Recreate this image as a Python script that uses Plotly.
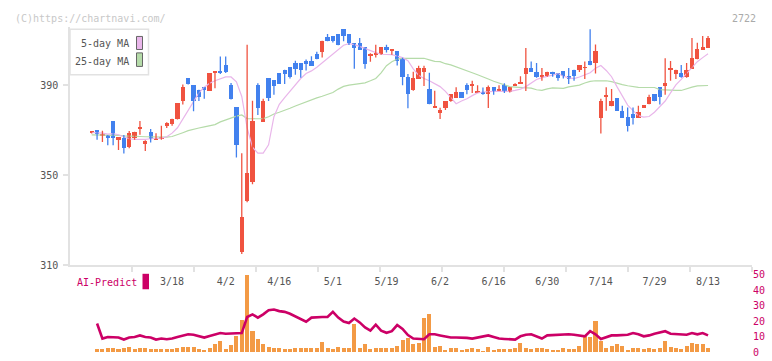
import plotly.graph_objects as go

W, H = 772, 361

# ---------------- data ----------------
date_labels = ["3/18", "4/2", "4/16", "5/1", "5/19", "6/2", "6/16", "6/30", "7/14", "7/29", "8/13"]
date_index = [15, 25, 35, 45, 55, 65, 75, 85, 95, 105, 115]

open_ = [368.9, 369.8, 367.6, 367.9, 374.1, 365.6, 366.6, 362.6, 366.5, 370.5,
         363.6, 368.9, 365.8, 365.8, 371.6, 372.5, 374.8, 382.7, 393.0, 389.9,
         387.7, 389.1, 387.4, 395.2, 396.2, 399.0, 390.0, 380.1, 315.6, 338.5,
         346.7, 390.1, 373.7, 393.0, 392.2, 395.2, 396.9, 397.9, 399.9, 399.9,
         400.8, 400.8, 403.8, 404.8, 411.3, 411.6, 412.8, 414.9, 412.8, 408.8,
         408.8, 406.7, 403.0, 403.6, 403.6, 406.7, 405.5, 405.3, 402.2, 393.7,
         387.6, 392.8, 395.6, 388.1, 380.0, 377.7, 379.7, 382.7, 384.4, 387.0,
         390.0, 389.8, 386.8, 386.8, 385.8, 389.1, 387.5, 390.0, 386.8, 389.9,
         390.8, 394.9, 397.7, 395.9, 393.8, 393.8, 396.0, 395.2, 396.1, 394.0,
         396.9, 396.6, 397.6, 400.8, 399.8, 375.5, 384.8, 380.7, 384.0, 378.5,
         375.8, 377.1, 375.5, 379.9, 381.6, 386.1, 389.1, 389.7, 396.8, 394.9,
         395.2, 393.4, 397.3, 401.6, 405.7, 406.6]
high = [369.6, 369.8, 369.8, 367.9, 374.1, 366.9, 367.9, 369.7, 369.3, 374.1,
        365.5, 370.5, 368.7, 372.0, 373.5, 375.1, 382.0, 390.3, 393.0, 389.9,
        388.0, 389.1, 395.2, 396.2, 402.8, 402.8, 391.0, 380.1, 359.8, 408.0,
        383.1, 390.9, 384.0, 393.0, 392.2, 395.2, 396.9, 397.9, 400.9, 399.9,
        401.5, 402.9, 404.9, 409.8, 412.8, 411.6, 412.8, 414.9, 412.8, 408.8,
        411.0, 406.7, 404.2, 408.0, 406.7, 408.0, 405.9, 405.3, 402.2, 395.0,
        396.0, 398.7, 398.7, 395.6, 387.6, 380.0, 383.0, 386.1, 389.1, 387.0,
        390.9, 392.0, 390.0, 389.0, 389.9, 389.1, 390.0, 390.9, 389.1, 390.9,
        394.0, 406.6, 400.6, 399.9, 397.7, 396.0, 396.0, 395.2, 396.1, 397.7,
        396.9, 399.0, 400.6, 414.9, 408.1, 384.0, 389.1, 388.3, 384.0, 380.9,
        380.1, 380.1, 380.9, 381.0, 385.8, 386.1, 389.1, 402.0, 400.8, 396.9,
        399.0, 399.9, 411.0, 408.9, 411.9, 411.9]
low = [368.6, 365.8, 364.8, 363.3, 363.3, 361.2, 359.6, 362.0, 365.8, 368.0,
       360.8, 364.5, 365.8, 365.8, 371.0, 372.0, 374.8, 381.5, 390.4, 378.4,
       383.0, 384.0, 387.4, 388.7, 395.0, 395.5, 383.7, 357.9, 314.9, 338.0,
       346.0, 376.8, 373.7, 383.0, 385.8, 390.6, 390.6, 393.0, 394.7, 393.4,
       396.6, 398.6, 401.6, 402.4, 409.6, 409.0, 407.8, 409.6, 407.9, 397.3,
       405.7, 397.3, 400.5, 402.4, 403.6, 404.6, 403.6, 398.8, 390.0, 379.8,
       387.6, 392.8, 389.7, 381.6, 380.0, 375.0, 379.0, 382.7, 384.4, 384.4,
       386.0, 386.6, 386.8, 385.8, 379.9, 385.8, 387.5, 386.6, 386.8, 389.9,
       390.8, 387.4, 395.9, 393.4, 392.0, 393.8, 393.8, 392.0, 393.0, 390.6,
       392.0, 395.9, 392.8, 398.9, 395.2, 368.6, 378.7, 380.7, 378.5, 375.5,
       369.4, 372.5, 375.5, 379.9, 381.6, 382.9, 381.5, 385.8, 392.0, 392.8,
       393.4, 393.4, 397.3, 401.6, 405.7, 406.6]
close = [369.3, 368.0, 368.0, 366.5, 366.5, 366.9, 361.8, 368.7, 368.9, 370.9,
         365.1, 365.8, 366.6, 367.0, 372.9, 375.1, 382.0, 389.1, 390.4, 382.8,
         384.5, 387.7, 395.2, 396.2, 395.2, 395.8, 383.7, 363.5, 331.1, 350.9,
         374.1, 379.7, 383.1, 384.4, 389.7, 390.6, 394.9, 393.7, 397.3, 396.6,
         399.5, 398.6, 401.6, 409.8, 409.6, 409.6, 407.8, 411.7, 408.8, 406.3,
         405.7, 399.5, 403.4, 404.0, 406.7, 405.5, 405.9, 400.6, 393.6, 385.9,
         393.0, 397.7, 397.7, 381.6, 380.4, 379.0, 383.0, 386.1, 387.0, 384.4,
         387.6, 390.2, 387.2, 385.8, 389.1, 387.5, 387.9, 387.5, 389.1, 390.3,
         391.2, 397.7, 395.9, 393.4, 394.2, 396.0, 394.9, 392.9, 393.8, 392.6,
         393.8, 399.0, 398.0, 398.9, 405.1, 383.0, 385.2, 383.0, 378.5, 375.5,
         371.8, 375.5, 378.0, 381.0, 384.8, 382.9, 384.7, 390.9, 397.2, 396.9,
         393.4, 396.9, 402.0, 405.9, 406.8, 411.0]

ma5 = [369.0, 369.0, 368.7, 368.3, 368.5, 368.0, 367.2, 366.2, 365.9, 365.8,
       365.9, 366.2, 366.3, 366.5, 367.1, 368.7, 371.1, 375.1, 378.7, 382.6,
       386.6, 389.1, 390.9, 392.0, 393.0, 393.7, 393.7, 391.5, 385.0, 371.0,
       362.5, 359.8, 359.8, 363.5, 376.0, 381.5, 384.5, 387.5, 390.0, 393.0,
       395.2, 396.4, 398.0, 400.0, 402.0, 404.0, 406.0, 407.8, 408.5, 408.1,
       407.3, 406.3, 405.2, 404.5, 403.8, 403.8, 403.6, 403.0, 402.3, 400.9,
       397.3, 394.4, 393.0, 392.0, 390.6, 389.4, 387.3, 384.4, 381.8, 383.0,
       384.0, 385.4, 386.6, 387.0, 387.3, 387.3, 387.3, 387.3, 387.3, 387.7,
       388.3, 389.4, 390.9, 392.6, 393.4, 393.8, 394.5, 395.2, 394.0, 393.3,
       393.0, 393.7, 394.5, 395.6, 397.6, 398.8, 396.6, 393.8, 389.4, 385.1,
       381.2, 378.7, 376.5, 375.8, 376.1, 378.0, 380.4, 383.0, 386.6, 390.2,
       392.6, 395.2, 397.6, 400.5, 402.3, 404.0]
ma25 = [367.9, 367.9, 367.9, 367.9, 367.9, 367.7, 367.5, 367.3, 367.2, 367.2,
        367.1, 367.0, 367.0, 366.9, 366.9, 367.2, 367.9, 368.9, 369.8, 370.5,
        371.0, 371.5, 372.0, 372.5, 373.7, 374.6, 375.5, 376.3, 376.8, 375.2,
        375.1, 375.1, 375.2, 376.0, 377.2, 378.0, 378.8, 379.8, 380.8, 381.7,
        382.8, 383.8, 384.4, 385.1, 386.0, 386.8, 388.3, 389.5, 390.1, 390.5,
        390.8, 391.1, 392.0, 393.0, 395.5, 398.7, 400.5, 401.6, 402.0, 402.0,
        402.0, 402.0, 402.0, 401.3, 400.6, 400.5, 399.6, 399.1, 398.3, 397.5,
        396.5, 395.6, 394.7, 393.6, 392.8, 391.8, 391.0, 390.2, 389.4, 389.2,
        389.1, 388.9, 388.7, 388.0, 387.7, 388.4, 388.8, 388.7, 388.6, 389.3,
        389.8, 390.1, 391.0, 391.7, 392.0, 392.0, 392.0, 391.6, 390.8, 390.3,
        389.8, 389.4, 389.1, 389.0, 389.0, 389.0, 388.1, 387.9, 387.7, 387.7,
        387.7, 388.6, 389.2, 389.7, 389.9, 389.9]

ai_bars = [None, 1.9, 1.9, 2.5, 3.1, 1.9, 3.1, 3.75, 1.9, 3.1,
           3.1, 1.9, 1.9, 1.9, 1.9, 1.9, 3.1, 3.75, 3.4, 3.75,
           1.9, 1.25, 2.5, 5.2, 7.5, 1.9, 4.6, 10.8, 20.6, 50.0,
           13.75, 8.75, 5.2, 3.75, 3.1, 2.5, 1.9, 1.9, 2.5, 2.5,
           3.1, 2.5, 2.5, 6.9, 2.5, 1.9, 3.75, 2.5, 2.5, 18.1,
           3.1, 5.6, 1.9, 2.5, 2.5, 2.5, 2.5, 4.4, 8.1, 9.4,
           5.6, 6.25, 21.9, 25.0, 3.75, 4.4, 1.25, 3.1, 2.5, 1.25,
           1.9, 2.5, 1.9, 0.6, 3.75, 1.25, 1.9, 1.9, 1.9, 2.5,
           6.25, 2.5, 1.9, 2.5, 2.5, 1.9, 1.25, 1.25, 3.1, 1.9,
           1.9, 4.4, 10.6, 10.0, 20.0, 7.5, 3.1, 4.4, 5.6, 4.4,
           1.25, 2.5, 3.1, 1.9, 2.5, 1.9, 2.5, 7.5, 3.75, 3.1,
           1.9, 4.4, 6.25, 5.2, 5.2, 2.5]
ai_line = [None, 18.5, 8.75, 9.8, 9.6, 9.4, 8.1, 9.4, 9.8, 10.8,
           9.8, 9.4, 8.1, 8.75, 8.3, 8.75, 9.8, 10.8, 11.5, 11.25,
           10.4, 9.4, 10.4, 11.5, 12.3, 11.9, 11.9, 11.9, 12.3, 22.7,
           24.4, 22.3, 24.4, 27.1, 27.5, 26.5, 26.0, 24.8, 23.1, 21.25,
           19.6, 22.3, 22.7, 22.7, 22.7, 26.0, 22.3, 19.8, 18.75, 21.7,
           19.2, 16.0, 13.9, 17.7, 13.9, 12.5, 13.5, 17.5, 15.0, 11.0,
           8.75, 8.3, 8.3, 11.5, 11.5, 10.8, 10.2, 9.4, 9.4, 9.4,
           9.2, 8.75, 9.4, 10.2, 10.8, 9.8, 8.75, 8.5, 8.5, 8.1,
           10.2, 11.25, 11.5, 10.2, 8.75, 10.8, 11.0, 11.0, 11.25, 11.5,
           11.25, 10.8, 10.2, 13.5, 11.5, 8.5, 9.4, 10.8, 10.8, 10.8,
           11.25, 12.3, 11.5, 10.2, 10.8, 11.9, 12.7, 13.5, 11.9, 11.6,
           11.5, 11.25, 12.3, 11.5, 12.3, 10.8]

price_ticks = [310, 350, 390]
ai_ticks = [0, 10, 20, 30, 40, 50]

# ---------------- styling ----------------
FONT = "DejaVu Sans Mono"
RED, BLUE = "#f05340", "#4281ee"
PINK, GREEN = "#e9b6ea", "#b5dba9"
ORANGE, MAGENTA = "#f39a45", "#cc0066"
AXIS = "#e2e2e2"

def fx(p):
    return p / W

def fy(p):
    return 1 - p / H

idx = list(range(len(close)))
x_range = [-4.05, 123.2]
grid_ticks = [x_range[0] + k * (x_range[1] - x_range[0]) / 11 for k in range(1, 12)]

up = [c >= o for o, c in zip(open_, close)]
body_base = [min(o, c) for o, c in zip(open_, close)]
body_h = [max(abs(c - o), 0.35) for o, c in zip(open_, close)]
colors = [RED if u else BLUE for u in up]

def wick_xy(flag):
    xs, ys = [], []
    for i in idx:
        if up[i] == flag:
            xs += [i, i, None]
            ys += [low[i], high[i], None]
    return xs, ys

fig = go.Figure()

# moving averages (behind candles)
fig.add_trace(go.Scatter(x=idx, y=ma25, mode="lines", line=dict(color=GREEN, width=1.2),
                         xaxis="x", yaxis="y", hoverinfo="skip"))
fig.add_trace(go.Scatter(x=idx, y=ma5, mode="lines", line=dict(color=PINK, width=1.2),
                         xaxis="x", yaxis="y", hoverinfo="skip"))

# wicks
for flag, col in ((True, RED), (False, BLUE)):
    wx, wy = wick_xy(flag)
    fig.add_trace(go.Scatter(x=wx, y=wy, mode="lines", line=dict(color=col, width=1.3),
                             xaxis="x", yaxis="y", hoverinfo="skip"))

# bodies
fig.add_trace(go.Bar(x=idx, y=body_h, base=body_base, width=0.8,
                     marker=dict(color=colors, line=dict(width=0)),
                     xaxis="x", yaxis="y", hoverinfo="skip"))

# label axis carrier (invisible)
fig.add_trace(go.Scatter(x=[date_index[0]], y=[price_ticks[0]], mode="markers",
                         marker=dict(opacity=0), xaxis="x3", yaxis="y", hoverinfo="skip"))

# AI-Predict panel
fig.add_trace(go.Bar(x=idx, y=ai_bars, width=0.75, marker=dict(color=ORANGE, line=dict(width=0)),
                     xaxis="x2", yaxis="y2", hoverinfo="skip"))
fig.add_trace(go.Scatter(x=idx, y=ai_line, mode="lines", line=dict(color=MAGENTA, width=2.6),
                         xaxis="x2", yaxis="y2", hoverinfo="skip"))

xdom = [fx(70), fx(752)]
tickfont = dict(family=FONT, size=10, color="#555555")

shapes = [
    # legend box
    dict(type="rect", xref="paper", yref="paper", x0=fx(70), x1=fx(148.5), y0=fy(71), y1=fy(24),
         line=dict(color=AXIS, width=1.5), fillcolor="white", layer="above"),
    dict(type="rect", xref="paper", yref="paper", x0=fx(136.5), x1=fx(142.5), y0=fy(45), y1=fy(31.5),
         line=dict(color="#666666", width=1), fillcolor=PINK, layer="above"),
    dict(type="rect", xref="paper", yref="paper", x0=fx(136.5), x1=fx(142.5), y0=fy(62.5), y1=fy(48.5),
         line=dict(color="#666666", width=1), fillcolor=GREEN, layer="above"),
    # AI-Predict marker
    dict(type="rect", xref="paper", yref="paper", x0=fx(142.5), x1=fx(149), y0=fy(293), y1=fy(277),
         line=dict(width=0), fillcolor=MAGENTA, layer="above"),
]

annotations = [
    dict(text="(C)https://chartnavi.com/", xref="paper", yref="paper", x=fx(13), y=fy(12.5),
         xanchor="left", yanchor="middle", showarrow=False,
         font=dict(family=FONT, size=10, color="#c8c8c8")),
    dict(text="2722", xref="paper", yref="paper", x=fx(758), y=fy(12.5),
         xanchor="right", yanchor="middle", showarrow=False,
         font=dict(family=FONT, size=10, color="#aaaaaa")),
    dict(text="5-day MA", xref="paper", yref="paper", x=fx(131), y=fy(39),
         xanchor="right", yanchor="middle", showarrow=False,
         font=dict(family=FONT, size=10, color="#555555")),
    dict(text="25-day MA", xref="paper", yref="paper", x=fx(131), y=fy(57),
         xanchor="right", yanchor="middle", showarrow=False,
         font=dict(family=FONT, size=10, color="#555555")),
    dict(text="AI-Predict", xref="paper", yref="paper", x=fx(75), y=fy(286),
         xanchor="left", yanchor="middle", showarrow=False,
         font=dict(family=FONT, size=10, color=MAGENTA)),
]

fig.update_layout(
    width=W, height=H,
    margin=dict(l=0, r=0, t=0, b=0),
    paper_bgcolor="white", plot_bgcolor="white",
    showlegend=False, bargap=0,
    xaxis=dict(domain=xdom, range=x_range, showgrid=False, zeroline=False,
               showline=True, linecolor=AXIS, linewidth=1.5,
               tickmode="array", tickvals=grid_ticks, showticklabels=False,
               ticks="outside", ticklen=5, tickcolor=AXIS, tickwidth=1.5,
               anchor="y", fixedrange=True),
    xaxis3=dict(overlaying="x", anchor="y", side="bottom", range=x_range,
                showgrid=False, zeroline=False, showline=False,
                tickmode="array", tickvals=date_index, ticktext=date_labels,
                ticks="", ticklabelstandoff=9, tickfont=tickfont, fixedrange=True),
    yaxis=dict(domain=[fy(268), fy(22)], range=[310, 310 + (268 - 22) / 2.325],
               showgrid=False, zeroline=False, showline=True, linecolor=AXIS, linewidth=1.5,
               tickmode="array", tickvals=price_ticks, ticks="outside", ticklen=5,
               tickcolor=AXIS, tickwidth=1.5, tickfont=tickfont, ticklabelstandoff=3,
               anchor="x", fixedrange=True),
    xaxis2=dict(domain=xdom, range=x_range, visible=False, anchor="y2", fixedrange=True),
    yaxis2=dict(domain=[fy(358), fy(278)], range=[0, 50], side="right", anchor="x2",
                showgrid=False, zeroline=False, showline=False,
                tickmode="array", tickvals=ai_ticks, ticks="",
                tickfont=dict(family=FONT, size=10, color=MAGENTA), fixedrange=True),
    shapes=shapes, annotations=annotations,
)

fig.write_html(
    "out.html",
    config={"displayModeBar": False, "responsive": False},
    post_script="document.body.style.margin='0px';document.body.style.padding='0px';"
                "document.documentElement.style.overflow='hidden';",
)
